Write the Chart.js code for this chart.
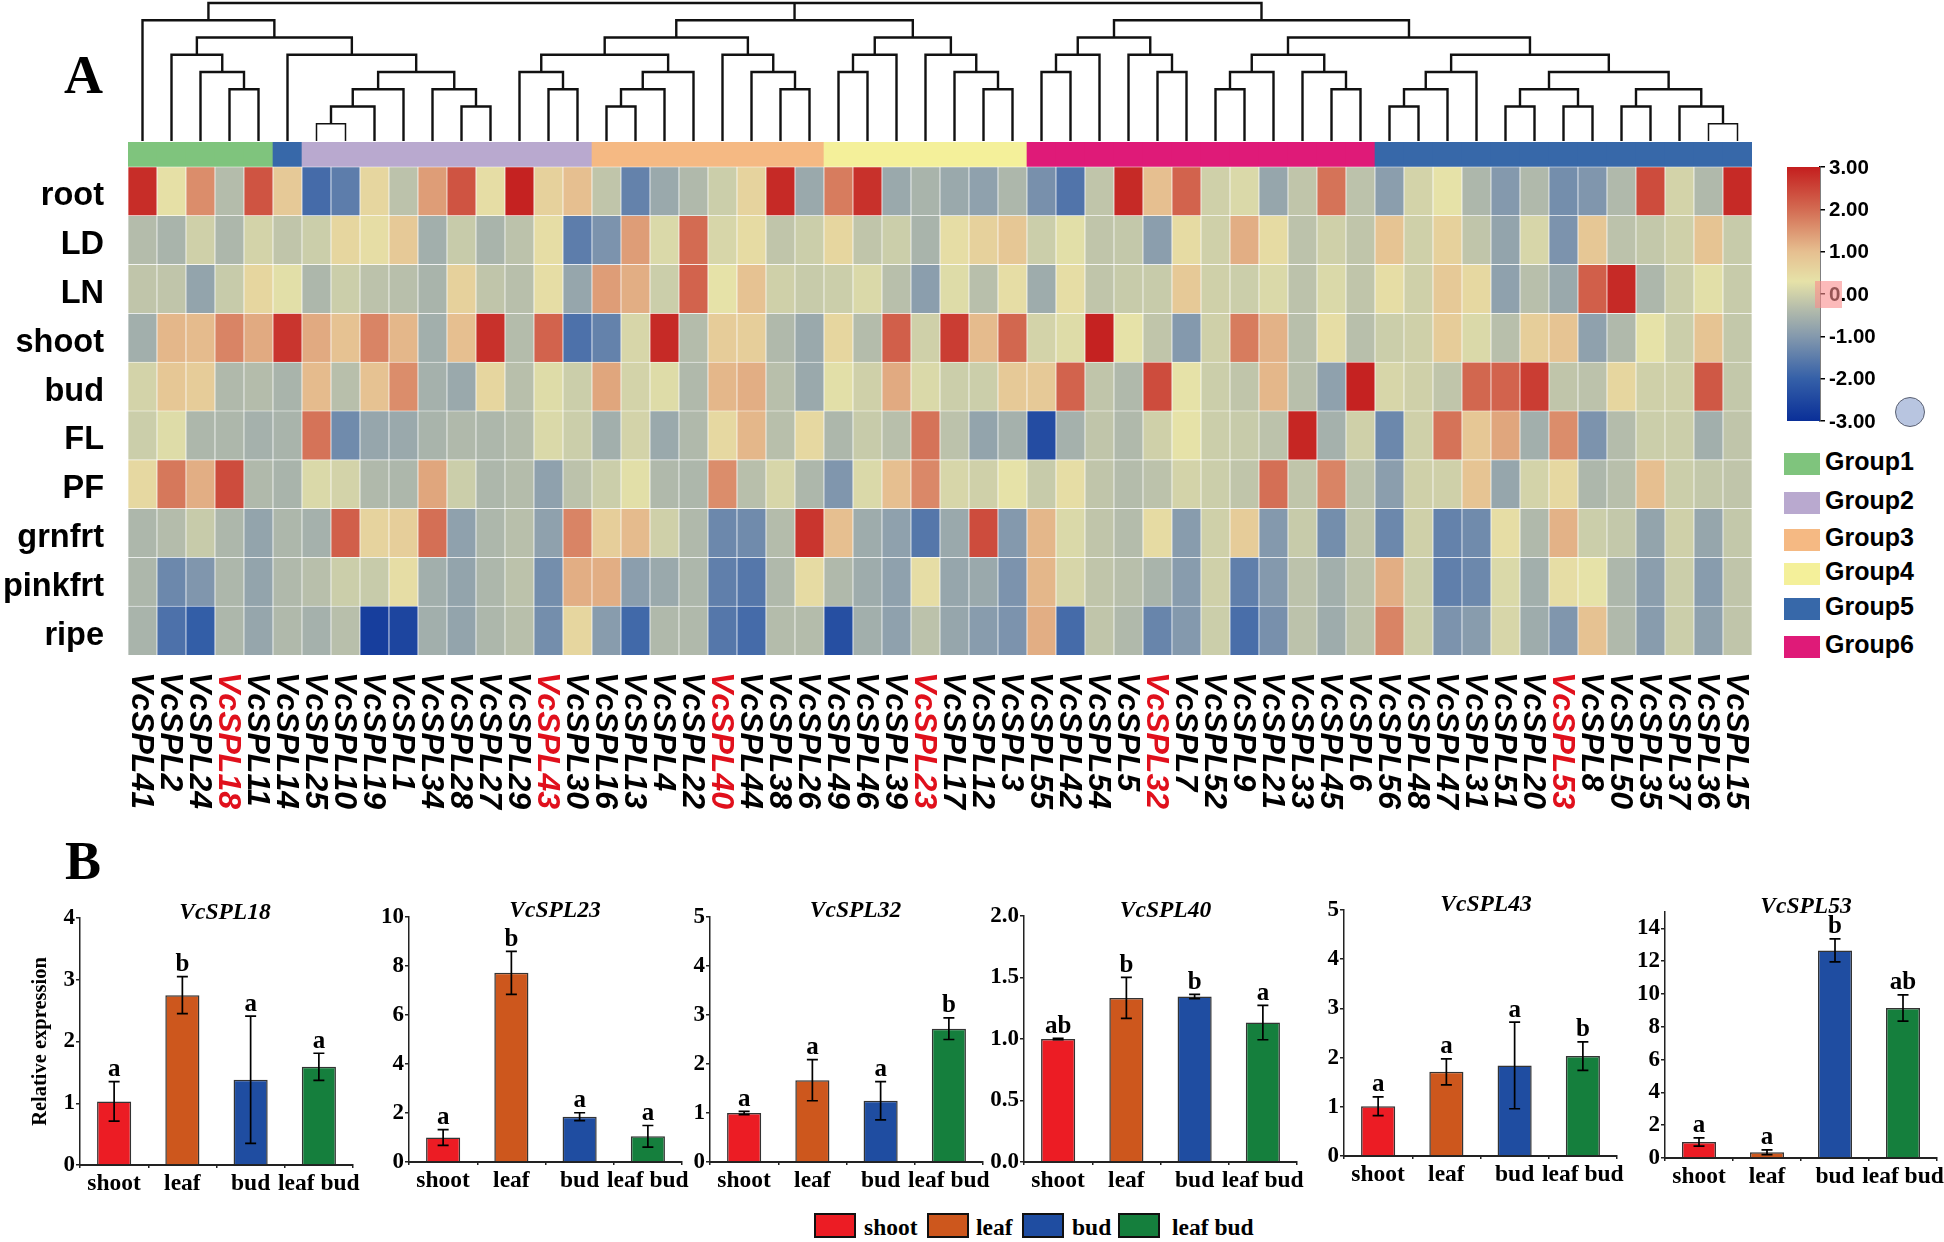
<!DOCTYPE html>
<html>
<head>
<meta charset="utf-8">
<title>VcSPL expression</title>
<script src="https://cdn.jsdelivr.net/npm/chart.js@4/dist/chart.umd.min.js"></script>
<style>
    html, body { margin: 0; padding: 0; background: #fff; overflow: hidden; }
    #page { position: relative; width: 1944px; height: 1242px; overflow: hidden; }
    #page canvas { position: absolute; }
    .txt { position: absolute; white-space: nowrap; color: #000; line-height: 1; }
    .sans { font: bold 25px "Liberation Sans", Arial, sans-serif; }
    .serif { font: bold 23.5px "Liberation Serif", "Times New Roman", serif; }
    .tag { font: bold 54px "Liberation Serif", "Times New Roman", serif; }
    .swatch { position: absolute; box-sizing: border-box; }
</style>
</head>
<body>
<div id="page"></div>
<script>
// ---- Panel A data ----
const geneIds = [41, 2, 24, 18, 11, 14, 25, 10, 19, 1, 34, 28, 27, 29, 43, 30, 16, 13, 4, 22, 40, 44, 38, 26, 49, 46, 39, 23,
    17, 12, 3, 55, 42, 54, 5, 32, 7, 52, 9, 21, 33, 45, 6, 56, 48, 47, 31, 51, 20, 53, 8, 50, 35, 37, 36, 15];
const highlightedGenes = [18, 43, 40, 23, 32, 53];
const rowLabels = ['root', 'LD', 'LN', 'shoot', 'bud', 'FL', 'PF', 'grnfrt', 'pinkfrt', 'ripe'];

const rootValues = [2.8, .35, 1.6, -.35, 2.3, .8, -1.8, -1.5, .55, -.25,
    1.4, 2.3, .4, 2.95, .65, 1.0, -.2, -1.4, -.7, -.4,
    -.05, .6, 2.85, -.7, 1.8, 2.75, -.7, -.5, -.7, -.85,
    -.45, -1.15, -1.65, -.2, 2.85, 1.0, 2.1, 0, .15, -.75,
    -.2, 1.9, -.25, -.9, .05, .3, -.45, -1.0, -.4, -1.2,
    -1.05, -.4, 2.4, .05, -.4, 2.85];
const ldValues = [-.35, -.5, 0, -.45, .05, -.2, -.05, .55, .4, .8,
    -.6, -.1, -.5, -.25, .4, -1.5, -1.1, 1.4, .15, 2.0,
    .1, .45, -.2, -.05, .55, -.2, -.05, -.5, .4, .65,
    .85, -.05, .25, -.2, -.15, -.9, .45, 0, 1.2, .45,
    -.25, 0, -.2, .9, 0, .65, -.2, -.8, .1, -1.1,
    .85, -.25, -.15, 0, .9, -.1];
const lnValues = [-.2, -.2, -.8, -.1, .55, .25, -.45, -.05, -.25, -.3,
    -.5, .65, -.2, -.3, .4, -.75, 1.4, 1.2, -.05, 2.1,
    .3, .95, 0, -.1, -.05, .15, -.3, -.9, .2, -.3,
    .4, -.65, .4, -.2, -.1, -.1, .8, 0, -.05, .15,
    -.25, .15, -.2, .4, 0, .8, .5, -.85, -.3, -.7,
    2.15, 2.85, -.45, -.05, .25, -.1];
const shootValues = [-.6, 1.1, 1.05, 1.7, 1.25, 2.7, 1.25, .95, 1.7, 1.1,
    -.6, 1.0, 2.75, -.35, 2.1, -1.7, -1.4, .1, 2.85, -.35,
    .75, .7, -.4, -.7, .55, -.35, 2.15, 0, 2.6, 1.05,
    2.05, .05, .2, 2.95, .3, -.2, -1.0, 0, 1.8, 1.15,
    -.3, .4, -.3, -.05, 0, .75, .15, -.3, .7, .9,
    -.85, -.4, .3, -.05, .9, -.15];
const budValues = [.05, .85, .75, -.4, -.35, -.5, 1.05, -.3, .95, 1.6,
    -.55, -.7, .55, -.3, .2, -.05, 1.3, .05, .2, -.4,
    1.1, 1.2, -.3, -.7, .25, 0, 1.25, .15, -.05, -.05,
    .8, .8, 2.1, -.2, -.4, 2.4, .3, -.05, -.2, 1.1,
    -.3, -.85, 2.95, .1, 0, -.2, 2.05, 2.1, 2.6, -.2,
    -.25, .55, 0, 0, 2.25, -.15];
const flValues = [-.05, .2, -.45, -.45, -.55, -.5, 1.9, -1.25, -.75, -.7,
    -.5, -.4, -.45, -.35, .15, -.05, -.6, .05, -.7, -.4,
    .5, 1.1, -.3, .5, -.45, -.1, -.3, 1.9, -.25, -.8,
    -.55, -2.4, -.55, -.2, -.4, 0, .3, -.05, -.1, -.25,
    2.9, -.55, 0, -1.3, 0, 1.9, .85, 1.3, -.6, 1.6,
    -1.1, -.35, -.05, -.05, -.6, -.2];
const pfValues = [.5, 1.85, 1.2, 2.4, -.4, -.5, .15, .05, -.4, -.45,
    1.3, -.05, -.45, -.35, -.85, -.25, -.05, .25, -.4, -.45,
    1.6, -.3, .1, -.45, -1.05, .15, 1.0, 1.65, .1, 0,
    .3, -.1, .4, -.2, -.35, -.25, .05, -.05, -.2, 1.95,
    -.2, 1.7, -.25, -.9, 0, 0, .9, -.75, .05, .5,
    -.45, -.3, 1.0, -.05, -.15, -.2];
const grnfrtValues = [-.45, -.35, -.1, -.45, -.8, -.45, -.55, 2.15, .6, .7,
    1.95, -.85, -.45, -.3, -.85, 1.7, .7, 1.05, 0, -.4,
    -1.3, -1.25, -.35, 2.7, 1.0, -.65, -.85, -1.6, -.7, 2.4,
    -1.0, 1.1, .15, -.2, -.35, .45, -.95, 0, .75, -1.0,
    -.1, -1.2, -.2, -1.3, 0, -1.4, -1.25, .4, -.4, 1.15,
    -.05, -.15, -.8, 0, -.75, -.15];
const pinkfrtValues = [-.45, -1.3, -1.05, -.45, -.8, -.4, -.3, -.05, -.1, .4,
    -.6, -.8, -.45, -.25, -1.2, 1.2, 1.2, -.9, -.7, -.45,
    -1.45, -1.6, -.4, .45, -.4, -.65, -.85, .4, -.75, -.7,
    -1.1, 1.1, .1, -.2, -.3, -.5, -.95, 0, -1.45, -1.0,
    -.25, -.6, -.25, 1.2, -.05, -1.45, -1.3, .15, -.6, .4,
    .3, -.45, -.9, -.05, -.95, -.2];
const ripeValues = [-.5, -1.7, -2.05, -.45, -.75, -.4, -.55, -.3, -2.7, -2.55,
    -.6, -.8, -.45, -.3, -1.2, .55, -.95, -1.85, -.4, -.4,
    -1.6, -1.8, -.35, -.35, -2.35, -.6, -.85, -.25, -.75, -.95,
    -1.1, 1.2, -1.8, -.2, -.4, -1.35, -1.0, -.05, -1.75, -1.15,
    -.25, -.65, -.25, 1.7, -.05, -1.1, -.95, .1, -.65, -1.05,
    .95, -.4, -.95, -.05, -.85, -.2];

// group of each column, left to right
const columnGroups = [1, 1, 1, 1, 1, 5, 2, 2, 2, 2, 2, 2, 2, 2, 2, 2, 3, 3, 3, 3, 3, 3, 3, 3, 4, 4, 4, 4, 4, 4, 4,
    6, 6, 6, 6, 6, 6, 6, 6, 6, 6, 6, 6, 5, 5, 5, 5, 5, 5, 5, 5, 5, 5, 5, 5, 5];
const groupNames = ['Group1', 'Group2', 'Group3', 'Group4', 'Group5', 'Group6'];
const groupColors = ['#7fc47d', '#b9a9cf', '#f5b983', '#f4f09a', '#3768a9', '#df1a78'];

// [height, child, child, ...], a plain number is the column of a leaf
const dendroTree = [8,
    [7, 1, [6, [5, 2, [4, 3, [3, 4, 5]]], [5, 6, [4, [3, [2, [1, 7, 8], 9], 10], [3, 11, [2, 12, 13]]]]]],
    [7, [6, [5, [4, 14, [3, 15, 16]], [4, [3, [2, 17, 18], 19], 20]], [5, 21, [4, 22, [3, 23, 24]]]],
        [6, [5, [4, 25, 26], 27], [5, 28, [4, 29, [3, 30, 31]]]]],
    [7, [6, [5, [4, 32, 33], 34], [5, 35, [4, 36, 37]]],
        [6, [5, [4, [3, 38, 39], 40], [4, 41, [3, 42, 43]]],
            [5, [4, [3, [2, 44, 45], 46], 47], [4, [3, [2, 48, 49], [2, 50, 51]], [3, [2, 52, 53], [2, 54, [1, 55, 56]]]]]]]
];

const scaleStops = [-3, -2, -1, -.35, .3, 1, 2, 3];
const scaleColors = ['#0a2f98', '#3560a8', '#8499ad', '#b4bcab', '#e6e2a8', '#e6bf90', '#d36b52', '#c41e1e'];

// ---- Panel B data ----
const tissues = ['shoot', 'leaf', 'bud', 'leaf bud'];
const tissueColors = ['#ec1c24', '#cd571d', '#1f4da1', '#157f3d'];

const vcspl18Values = [1.03, 2.75, 1.38, 1.59];
const vcspl18Errors = [.32, .3, 1.03, .22];
const vcspl18Letters = ['a', 'b', 'a', 'a'];
const vcspl23Values = [1.0, 7.72, 1.85, 1.05];
const vcspl23Errors = [.32, .88, .16, .44];
const vcspl23Letters = ['a', 'b', 'a', 'a'];
const vcspl32Values = [1.0, 1.67, 1.25, 2.72];
const vcspl32Errors = [.035, .42, .39, .22];
const vcspl32Letters = ['a', 'a', 'a', 'b'];
const vcspl40Values = [1.0, 1.334, 1.345, 1.134];
const vcspl40Errors = [.005, .167, .017, .14];
const vcspl40Letters = ['ab', 'b', 'b', 'a'];
const vcspl43Values = [1.01, 1.71, 1.84, 2.03];
const vcspl43Errors = [.19, .265, .88, .29];
const vcspl43Letters = ['a', 'a', 'a', 'b'];
const vcspl53Values = [.98, .35, 12.66, 9.15];
const vcspl53Errors = [.25, .14, .7, .8];
const vcspl53Letters = ['a', 'a', 'b', 'ab'];

// ---- layout (px on the page) ----
const page = document.getElementById('page');
const SANS = '"Liberation Sans", Arial, sans-serif';
const SERIF = '"Liberation Serif", "Times New Roman", serif';
const HEAT_LEFT = 128, HEAT_RIGHT = 1752, STRIP_TOP = 142, HEAT_BOTTOM = 655;
const STRIP_ROWS = 0.51;

Chart.defaults.animation = false;
Chart.defaults.responsive = false;
Chart.defaults.maintainAspectRatio = false;
Chart.defaults.plugins.legend.display = false;
Chart.defaults.plugins.tooltip.enabled = false;

function addCanvas(left, top, width, height) {
    const c = document.createElement('canvas');
    c.width = width;
    c.height = height;
    c.style.left = left + 'px';
    c.style.top = top + 'px';
    c.style.width = width + 'px';
    c.style.height = height + 'px';
    page.appendChild(c);
    return c;
}

function addText(text, cls, left, top, extra) {
    const d = document.createElement('div');
    d.className = 'txt ' + cls;
    d.textContent = text;
    d.style.left = left + 'px';
    d.style.top = top + 'px';
    if (extra) Object.assign(d.style, extra);
    page.appendChild(d);
    return d;
}

function addBox(left, top, width, height, style) {
    const d = document.createElement('div');
    d.className = 'swatch';
    d.style.left = left + 'px';
    d.style.top = top + 'px';
    d.style.width = width + 'px';
    d.style.height = height + 'px';
    Object.assign(d.style, style);
    page.appendChild(d);
    return d;
}

function hexToRgb(hex) {
    return [1, 3, 5].map(i => parseInt(hex.slice(i, i + 2), 16));
}

function colorFor(value) {
    const v = Math.max(-3, Math.min(3, value));
    let i = 0;
    while (i < scaleStops.length - 2 && v > scaleStops[i + 1]) i++;
    const t = (v - scaleStops[i]) / (scaleStops[i + 1] - scaleStops[i]);
    const a = hexToRgb(scaleColors[i]);
    const b = hexToRgb(scaleColors[i + 1]);
    const mix = a.map((c, k) => Math.round(c + (b[k] - c) * t));
    return `rgb(${mix[0]},${mix[1]},${mix[2]})`;
}

// the labels sit inside the plot here, so no margin is needed for them
function dropLabelMargins(axis) {
    axis.paddingTop = 0;
    axis.paddingBottom = 0;
    axis.paddingLeft = 0;
    axis.paddingRight = 0;
}

// ---- dendrogram ----
function collectLinks(node, links) {
    if (typeof node === 'number') return { x: node, h: 0 };
    const h = node[0];
    const kids = node.slice(1).map(n => collectLinks(n, links));
    const first = kids[0];
    const last = kids[kids.length - 1];
    links.push({
        h,
        points: [{ x: first.x, y: first.h }, { x: first.x, y: h }, { x: last.x, y: h }, { x: last.x, y: last.h }]
    });
    kids.slice(1, -1).forEach(k => links.push({ h, points: [{ x: k.x, y: k.h }, { x: k.x, y: h }] }));
    return { x: (first.x + last.x) / 2, h };
}

const dendroLinks = [];
collectLinks(dendroTree, dendroLinks);

new Chart(addCanvas(HEAT_LEFT, 0, HEAT_RIGHT - HEAT_LEFT, 142), {
    type: 'scatter',
    data: {
        datasets: dendroLinks.map(link => ({
            data: link.points,
            showLine: true,
            pointRadius: 0,
            borderColor: '#111',
            borderWidth: link.h === 1 ? 1.5 : 2.4,
            borderJoinStyle: 'miter',
            clip: false
        }))
    },
    options: {
        layout: { padding: { top: 3, bottom: 1 } },
        scales: {
            x: { type: 'linear', min: 0.5, max: geneIds.length + 0.5, display: false },
            y: { type: 'linear', min: 0, max: 8, display: false }
        }
    }
});

// ---- heatmap ----
const heatRows = [rootValues, ldValues, lnValues, shootValues, budValues, flValues, pfValues, grnfrtValues, pinkfrtValues, ripeValues];

const geneLabelPlugin = {
    id: 'geneLabels',
    afterDraw(chart) {
        const { ctx, scales: { x } } = chart;
        ctx.save();
        ctx.font = `italic bold 32px ${SANS}`;
        ctx.textAlign = 'left';
        ctx.textBaseline = 'middle';
        geneIds.forEach((id, i) => {
            ctx.save();
            ctx.translate(x.getPixelForTick(i) - 2, HEAT_BOTTOM - STRIP_TOP + 17);
            ctx.rotate(Math.PI / 2);
            ctx.fillStyle = highlightedGenes.includes(id) ? '#e0101c' : '#000';
            ctx.fillText('VcSPL' + id, 0, 0);
            ctx.restore();
        });
        ctx.restore();
    }
};

const heatCanvasHeight = 680;
new Chart(addCanvas(0, STRIP_TOP, HEAT_RIGHT + 8, heatCanvasHeight), {
    type: 'bar',
    data: {
        labels: geneIds.map(id => 'VcSPL' + id),
        datasets: [
            ...heatRows.map((values, r) => ({
                label: rowLabels[r],
                data: values.map(() => 1),
                backgroundColor: values.map(colorFor),
                borderColor: '#fff',
                borderWidth: 0.7
            })).reverse(),
            {
                label: 'group',
                data: columnGroups.map(() => STRIP_ROWS),
                backgroundColor: columnGroups.map(g => groupColors[g - 1]),
                borderWidth: 0
            }
        ]
    },
    options: {
        layout: { padding: { right: 8, bottom: STRIP_TOP + heatCanvasHeight - HEAT_BOTTOM } },
        datasets: { bar: { barPercentage: 1, categoryPercentage: 1 } },
        scales: {
            x: {
                stacked: true,
                grid: { display: false, drawTicks: false },
                border: { display: false },
                ticks: { display: false },
                afterFit: axis => { axis.height = 0; dropLabelMargins(axis); }
            },
            y: {
                stacked: true,
                min: 0,
                max: rowLabels.length + STRIP_ROWS,
                grid: { display: false, drawTicks: false },
                border: { display: false },
                afterBuildTicks: axis => { axis.ticks = rowLabels.map((_, i) => ({ value: i + 0.5 })); },
                afterFit: axis => { axis.width = HEAT_LEFT; dropLabelMargins(axis); },
                ticks: {
                    autoSkip: false,
                    padding: 24,
                    labelOffset: 5,
                    color: '#000',
                    font: { family: SANS, size: 32.5, weight: 'bold' },
                    callback: v => rowLabels[rowLabels.length - 1 - Math.floor(v)]
                }
            }
        }
    },
    plugins: [geneLabelPlugin]
});

// ---- colour scale ----
new Chart(addCanvas(1787, 157, 157, 280), {
    type: 'bar',
    data: {
        labels: [''],
        datasets: [{
            data: [[-3, 3]],
            backgroundColor(context) {
                const { chart } = context;
                if (!chart.chartArea) return scaleColors[0];
                const { top, bottom } = chart.chartArea;
                const g = chart.ctx.createLinearGradient(0, bottom, 0, top);
                scaleStops.forEach((s, i) => g.addColorStop((s + 3) / 6, scaleColors[i]));
                return g;
            }
        }]
    },
    options: {
        layout: { padding: { top: 10, bottom: 16 } },
        datasets: { bar: { barPercentage: 1, categoryPercentage: 1 } },
        scales: {
            x: { display: false },
            y: {
                position: 'right',
                min: -3,
                max: 3,
                afterFit: axis => { axis.width = 124; dropLabelMargins(axis); },
                grid: { drawOnChartArea: false, tickLength: 5, tickColor: '#000', lineWidth: 1.5 },
                border: { color: '#000', width: 1.5 },
                ticks: {
                    stepSize: 1,
                    padding: 4,
                    labelOffset: 1,
                    color: '#000',
                    font: { family: SANS, size: 20.5, weight: 'bold' },
                    callback: v => v.toFixed(2)
                }
            }
        }
    }
});

// ---- group legend ----
const groupLegendTops = [453, 492, 529, 563, 598, 636];
groupNames.forEach((name, i) => {
    addBox(1784, groupLegendTops[i], 36, 21.5, { background: groupColors[i] });
    addText(name, 'sans', 1825, groupLegendTops[i] - 6);
});

// odd marks sitting on the scale in the source figure
addBox(1815, 281, 27, 27, { background: 'rgba(250,140,140,.6)' });
addBox(1895, 397, 30, 30, { background: '#b8c5e0', border: '1px solid #5a6072', borderRadius: '50%' });

addText('A', 'tag', 64, 44);
addText('B', 'tag', 65, 830);

// ---- bar panels ----
const panelMarks = {
    id: 'panelMarks',
    afterDatasetsDraw(chart, _args, opts) {
        const { ctx, chartArea, scales: { y } } = chart;
        const bars = chart.getDatasetMeta(0).data;
        ctx.save();
        ctx.strokeStyle = '#000';
        ctx.lineWidth = 1.7;
        ctx.fillStyle = '#000';
        ctx.textAlign = 'center';
        ctx.textBaseline = 'middle';
        ctx.font = `bold 25px ${SERIF}`;
        opts.values.forEach((v, i) => {
            const x = bars[i].x;
            const top = y.getPixelForValue(v + opts.errors[i]);
            const low = y.getPixelForValue(v - opts.errors[i]);
            ctx.beginPath();
            ctx.moveTo(x, top);
            ctx.lineTo(x, low);
            ctx.moveTo(x - 5.5, top);
            ctx.lineTo(x + 5.5, top);
            ctx.moveTo(x - 5.5, low);
            ctx.lineTo(x + 5.5, low);
            ctx.stroke();
            ctx.fillText(opts.letters[i], x, top - 12);
        });
        ctx.font = `italic bold 23.5px ${SERIF}`;
        ctx.fillText(opts.title, (chartArea.left + chartArea.right) / 2 + opts.titleDx, chartArea.top + opts.titleDy);
        ctx.restore();
    }
};

const AXIS_W = 70, PANEL_TOP_PAD = 32, PANEL_BOTTOM_PAD = 40, PANEL_RIGHT_PAD = 16;

function stepTicks(max, step) {
    const ticks = [];
    for (let n = 0; n * step <= max; n++) ticks.push({ value: n * step });
    return ticks;
}

function drawPanel(p) {
    const width = p.right - p.axis + AXIS_W + PANEL_RIGHT_PAD;
    const height = p.bottom - p.top + PANEL_TOP_PAD + PANEL_BOTTOM_PAD;
    new Chart(addCanvas(p.axis - AXIS_W, p.top - PANEL_TOP_PAD, width, height), {
        type: 'bar',
        data: {
            labels: tissues,
            datasets: [{
                data: p.values,
                backgroundColor: tissueColors,
                borderColor: '#333',
                borderWidth: 1.5,
                barPercentage: 1,
                categoryPercentage: 0.5
            }]
        },
        options: {
            layout: { padding: { top: PANEL_TOP_PAD, right: PANEL_RIGHT_PAD } },
            plugins: {
                panelMarks: {
                    values: p.values, errors: p.errors, letters: p.letters,
                    title: p.title, titleDx: p.titleDx, titleDy: p.titleDy
                }
            },
            scales: {
                x: {
                    afterFit: axis => { axis.height = PANEL_BOTTOM_PAD; dropLabelMargins(axis); },
                    grid: { drawOnChartArea: false, tickLength: 3, tickColor: '#222', lineWidth: 1.5 },
                    border: { color: '#222', width: 2 },
                    ticks: {
                        autoSkip: false,
                        maxRotation: 0,
                        padding: 2,
                        color: '#000',
                        font: { family: SERIF, size: 23.5, weight: 'bold' }
                    }
                },
                y: {
                    min: 0,
                    max: p.max,
                    // the top of the axis is not always a step of the scale
                    afterBuildTicks: axis => { axis.ticks = stepTicks(p.max, p.step); },
                    afterFit: axis => { axis.width = AXIS_W; dropLabelMargins(axis); },
                    grid: { drawOnChartArea: false, tickLength: 4, tickColor: '#222', lineWidth: 1.5 },
                    border: { color: '#222', width: 1.5 },
                    title: p.yTitle ? {
                        display: true,
                        text: p.yTitle,
                        color: '#000',
                        padding: { top: 18, bottom: 0 },
                        font: { family: SERIF, size: 20.5, weight: 'bold' }
                    } : { display: false },
                    ticks: {
                        padding: 1,
                        color: '#000',
                        font: { family: SERIF, size: 23, weight: 'bold' },
                        callback: v => v.toFixed(p.decimals || 0)
                    }
                }
            }
        },
        plugins: [panelMarks]
    });
}

drawPanel({ title: 'VcSPL18', values: vcspl18Values, errors: vcspl18Errors, letters: vcspl18Letters, max: 4, step: 1,
    axis: 79.5, right: 353, top: 918, bottom: 1165, titleDx: 8.5, titleDy: -5.5, yTitle: 'Relative expression' });
drawPanel({ title: 'VcSPL23', values: vcspl23Values, errors: vcspl23Errors, letters: vcspl23Letters, max: 10, step: 2,
    axis: 409, right: 682, top: 917, bottom: 1162, titleDx: 9.5, titleDy: -6.5 });
drawPanel({ title: 'VcSPL32', values: vcspl32Values, errors: vcspl32Errors, letters: vcspl32Letters, max: 5, step: 1,
    axis: 710, right: 983, top: 917, bottom: 1162, titleDx: 9, titleDy: -6.5 });
drawPanel({ title: 'VcSPL40', values: vcspl40Values, errors: vcspl40Errors, letters: vcspl40Letters, max: 2, step: 0.5, decimals: 1,
    axis: 1024, right: 1297, top: 916, bottom: 1162, titleDx: 5, titleDy: -5.5 });
drawPanel({ title: 'VcSPL43', values: vcspl43Values, errors: vcspl43Errors, letters: vcspl43Letters, max: 5, step: 1,
    axis: 1344, right: 1617, top: 910, bottom: 1156, titleDx: 5.5, titleDy: -5.5 });
drawPanel({ title: 'VcSPL53', values: vcspl53Values, errors: vcspl53Errors, letters: vcspl53Letters, max: 15, step: 2,
    axis: 1665, right: 1937, top: 912, bottom: 1158, titleDx: 5, titleDy: -5.5 });

// ---- tissue legend ----
const tissueSwatchLefts = [814, 927, 1022, 1118];
const tissueTextLefts = [864, 976, 1072, 1172];
tissues.forEach((name, i) => {
    addBox(tissueSwatchLefts[i], 1213, 42, 25, { background: tissueColors[i], border: '2.5px solid #111' });
    addText(name, 'serif', tissueTextLefts[i], 1214);
});
</script>
</body>
</html>
